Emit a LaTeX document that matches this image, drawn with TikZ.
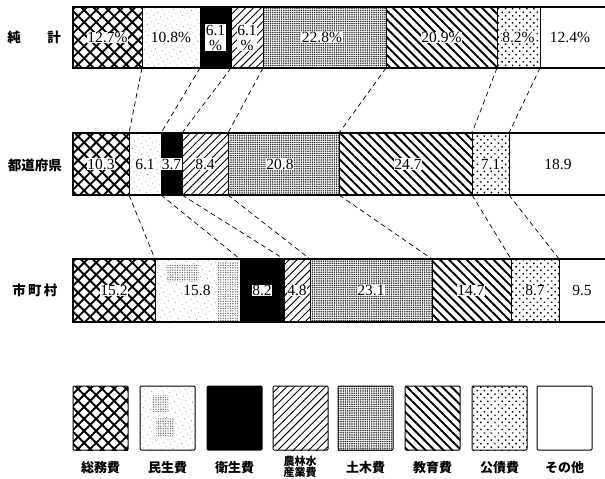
\documentclass[tikz,border=0pt]{standalone}
\usepackage{fontspec}
\setmainfont{Liberation Serif}
\newfontfamily\jp{Noto Sans CJK JP}
\usetikzlibrary{patterns.meta}
\tikzset{
  pa/.style={pattern={Hatch[angle=45,distance=8.5pt,line width=1.9pt]}},
  pb/.style={pattern={Dots[angle=30,distance=5pt,radius=0.45pt]},pattern color=black!55},
  pbpatch/.style={pattern={Dots[distance=2.4pt,radius=0.7pt]},pattern color=black!60},
  pc/.style={fill=black},
  pd/.style={pattern={Lines[angle=45,distance=5.5pt,line width=0.9pt]}},
  pe/.style={pattern={Dots[distance=2.2pt,radius=0.85pt]},pattern color=black!85},
  pf/.style={pattern={Lines[angle=-45,distance=6.3pt,line width=1.9pt]}},
  pg/.style={pattern={Dots[angle=45,distance=5pt,radius=1pt]}},
  ph/.style={fill=white},
  val/.style={fill=white, inner sep=0.6pt, font=\fontsize{15.5}{15}\selectfont, align=center},
  conn/.style={dash pattern=on 5pt off 3.5pt, line width=0.7pt},
  rowlab/.style={font=\jp\bfseries\fontsize{13.5}{14}\selectfont},
  leglab/.style={font=\jp\bfseries\fontsize{13}{13}\selectfont, align=center},
  leglab2/.style={font=\jp\bfseries\fontsize{11}{11}\selectfont, align=center},
  outline/.style={line width=1.3pt},
  divider/.style={line width=0.9pt},
  legbox/.style={draw, line width=1pt, rounded corners=1pt},
}
\begin{document}
\begin{tikzpicture}[x=1pt,y=-1pt]
\useasboundingbox (0,0) rectangle (605,479);

% ---------- top bar (純計) ----------
\foreach \a/\b/\s in {73/142/pa,142/200/pb,200/231/pc,231/263/pd,263/386/pe,386/497/pf,497/540/pg,540/605/ph}
  \path[\s] (\a,7) rectangle (\b,68);
\foreach \x in {142,200,231,263,386,497,540}
  \draw[divider] (\x,7) -- (\x,68);
\draw[outline] (605,7) -- (73,7) -- (73,68) -- (605,68);

% ---------- middle bar (都道府県) ----------
\foreach \a/\b/\s in {73/129/pa,129/161/pb,161/182/pc,182/228/pd,228/339/pe,339/472/pf,472/509/pg,509/605/ph}
  \path[\s] (\a,133) rectangle (\b,195);
\foreach \x in {129,161,182,228,339,472,509}
  \draw[divider] (\x,133) -- (\x,195);
\draw[outline] (605,133) -- (73,133) -- (73,195) -- (605,195);

% ---------- bottom bar (市町村) ----------
\foreach \a/\b/\s in {73/155/pa,155/240/pb,240/284/pc,284/310/pd,310/432/pe,432/511/pf,511/559/pg,559/605/ph}
  \path[\s] (\a,259) rectangle (\b,322);
\path[pbpatch] (166,264) rectangle (199,281);
\path[pbpatch] (218,262) rectangle (239,321);
\foreach \x in {155,240,284,310,432,511,559}
  \draw[divider] (\x,259) -- (\x,322);
\draw[outline] (605,259) -- (73,259) -- (73,322) -- (605,322);

% ---------- boundary coordinates ----------
\foreach \x [count=\i] in {142,200,231,263,386,497,540}
  \coordinate (tb\i) at (\x,68);
\foreach \x [count=\i] in {129,161,182,228,339,472,509} {
  \coordinate (mt\i) at (\x,133);
  \coordinate (mb\i) at (\x,195);
}
\foreach \x [count=\i] in {155,240,284,310,432,511,559}
  \coordinate (bt\i) at (\x,259);
\foreach \i in {1,...,7} {
  \draw[conn] (tb\i) -- (mt\i);
  \draw[conn] (mb\i) -- (bt\i);
}

% ---------- values ----------
\node[val] (t1) at (107.5,37.5) {12.7\%};
\node[val] (t2) at (171,37.5) {10.8\%};
\node[val] (t3) at (215.5,37.5) {6.1\\\%};
\node[val] (t4) at (247,37.5) {6.1\\\%};
\node[val] (t5) at (322,37.5) {22.8\%};
\node[val] (t6) at (441.5,37.5) {20.9\%};
\node[val] (t7) at (518.5,37.5) {8.2\%};
\node[val] (t8) at (570,37.5) {12.4\%};

\node[val] (m1) at (101,164) {10.3};
\node[val] (m2) at (145,164) {6.1};
\node[val] (m3) at (171.5,164) {3.7};
\node[val] (m4) at (205,164) {8.4};
\node[val] (m5) at (280,164) {20.8};
\node[val] (m6) at (408,164) {24.7};
\node[val] (m7) at (490.5,164) {7.1};
\node[val] (m8) at (558,164) {18.9};

\node[val] (b1) at (114,290.5) {15.2};
\node[val] (b2) at (197,290.5) {15.8};
\node[val] (b3) at (262,290.5) {8.2};
\node[val] (b4) at (297,290.5) {4.8};
\node[val] (b5) at (371,290.5) {23.1};
\node[val] (b6) at (471,290.5) {14.7};
\node[val] (b7) at (535,290.5) {8.7};
\node[val] (b8) at (582,290.5) {9.5};

% ---------- row labels ----------
\node[rowlab] (r1a) at (14,37.5) {純};
\node[rowlab] (r1b) at (54,37.5) {計};
\node[rowlab] (r2) at (35,165) {都道府県};
\node[rowlab] (r3) at (35,290.5) {市\,町\,村};

% ---------- legend ----------
\foreach \a/\s [count=\i] in {73/pa,140/pb,207/pc,273/pd,338/pe,405/pf,472/pg,537/ph} {
  \path[\s] (\a,386) rectangle ++(55,64);
  \draw[legbox] (\a,386) rectangle ++(55,64);
  \coordinate (lg\i) at (\a+27.5,468);
}
\path[pbpatch] (152,395) rectangle (168,411);
\path[pbpatch] (156,418) rectangle (174,436);

\node[leglab] (l1) at (lg1) {総務費};
\node[leglab] (l2) at (lg2) {民生費};
\node[leglab] (l3) at (lg3) {衛生費};
\node[leglab2] (l4) at (300,467) {農林水\\産業費};
\node[leglab] (l5) at (lg5) {土木費};
\node[leglab] (l6) at (lg6) {教育費};
\node[leglab] (l7) at (lg7) {公債費};
\node[leglab] (l8) at (lg8) {その他};
\end{tikzpicture}
\end{document}
